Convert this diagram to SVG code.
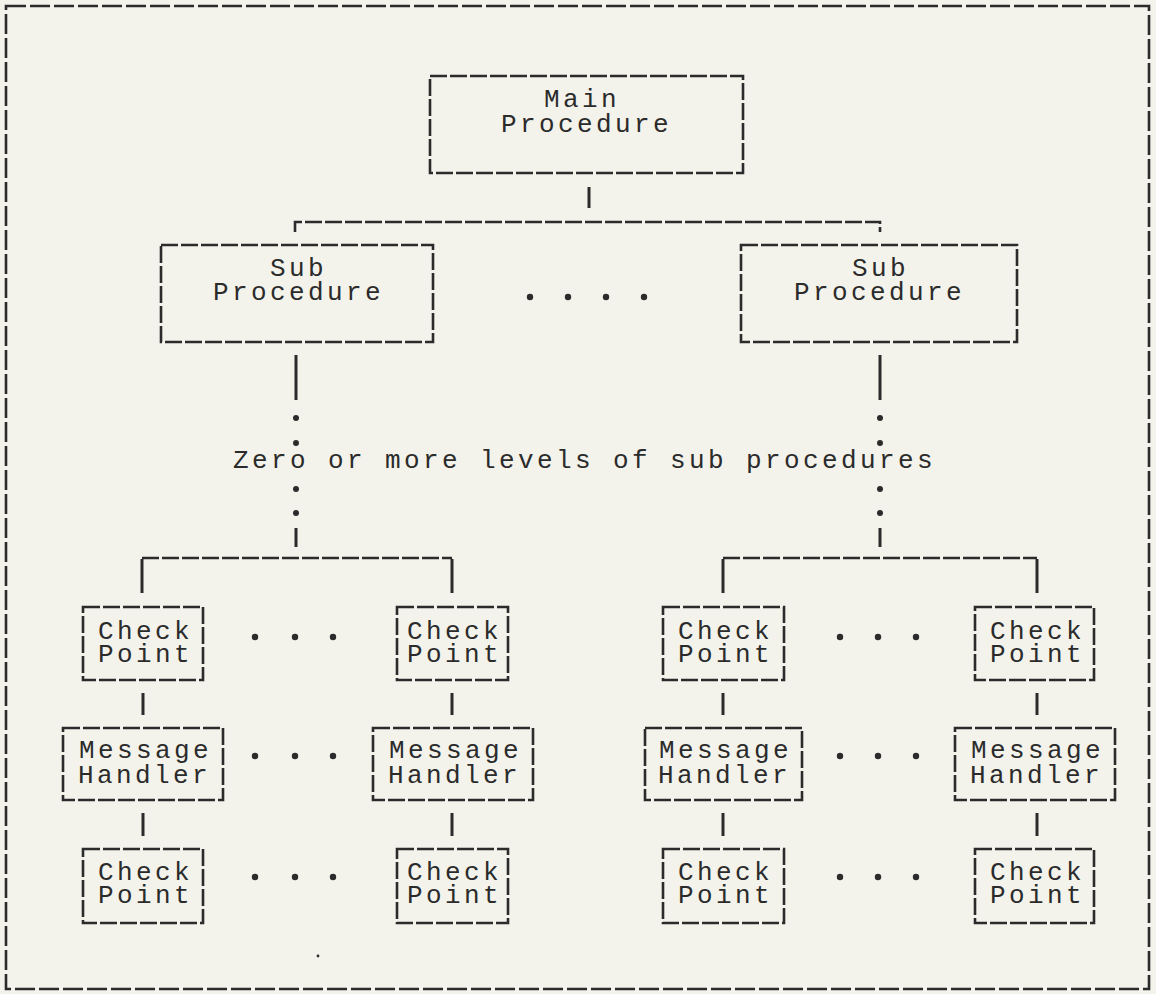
<svg xmlns="http://www.w3.org/2000/svg" width="1156" height="994" viewBox="0 0 1156 994">
  <style>
    .bg { fill: #f3f3ec; }
    .box { fill: none; stroke: #2b2b2b; stroke-width: 2.6; stroke-dasharray: 17 3; }
    .frame { fill: none; stroke: #2b2b2b; stroke-width: 2.6; stroke-dasharray: 20 4; }
    .dash { fill: none; stroke: #2b2b2b; stroke-width: 2.6; stroke-dasharray: 17 3; }
    .solid { fill: none; stroke: #2b2b2b; stroke-width: 3; }
    .dot { fill: #2b2b2b; }
    text { font-family: "Liberation Mono", "DejaVu Sans Mono", monospace; font-size: 26px; letter-spacing: 3.4px; fill: #2b2b2b; }
  </style>
  <rect class="bg" x="0" y="0" width="1156" height="994"/>
  <rect id="frame" class="frame" x="6" y="6" width="1143" height="983"/>

  <g id="connectors">
    <line class="solid" x1="589" y1="187" x2="589" y2="208"/>
    <path class="dash" d="M295,232 V222 H880 V232"/>
    <line class="solid" x1="296" y1="355" x2="296" y2="400"/>
    <line class="solid" x1="880" y1="355" x2="880" y2="400"/>
    <line class="solid" x1="296" y1="528" x2="296" y2="547"/>
    <line class="solid" x1="880" y1="528" x2="880" y2="547"/>
    <path class="dash" d="M142,558 H452"/>
    <path class="dash" d="M723,558 H1037"/>
    <line class="solid" x1="142" y1="559" x2="142" y2="593"/>
    <line class="solid" x1="452" y1="559" x2="452" y2="593"/>
    <line class="solid" x1="723" y1="559" x2="723" y2="593"/>
    <line class="solid" x1="1037" y1="559" x2="1037" y2="593"/>
    <line class="solid" x1="143" y1="693" x2="143" y2="715"/>
    <line class="solid" x1="452" y1="693" x2="452" y2="715"/>
    <line class="solid" x1="723" y1="693" x2="723" y2="715"/>
    <line class="solid" x1="1037" y1="693" x2="1037" y2="715"/>
    <line class="solid" x1="143" y1="813" x2="143" y2="836"/>
    <line class="solid" x1="452" y1="813" x2="452" y2="836"/>
    <line class="solid" x1="723" y1="813" x2="723" y2="836"/>
    <line class="solid" x1="1037" y1="813" x2="1037" y2="836"/>
  </g>

  <g id="ellipses">
    <circle class="dot" cx="530" cy="297" r="3.2"/>
    <circle class="dot" cx="568" cy="297" r="3.2"/>
    <circle class="dot" cx="606" cy="297" r="3.2"/>
    <circle class="dot" cx="644" cy="297" r="3.2"/>
    <circle class="dot" cx="296" cy="418" r="3"/>
    <circle class="dot" cx="296" cy="443" r="3"/>
    <circle class="dot" cx="296" cy="489" r="3"/>
    <circle class="dot" cx="296" cy="513" r="3"/>
    <circle class="dot" cx="880" cy="418" r="3"/>
    <circle class="dot" cx="880" cy="443" r="3"/>
    <circle class="dot" cx="880" cy="489" r="3"/>
    <circle class="dot" cx="880" cy="513" r="3"/>
    <circle class="dot" cx="255" cy="637" r="3.2"/>
    <circle class="dot" cx="295" cy="637" r="3.2"/>
    <circle class="dot" cx="333" cy="637" r="3.2"/>
    <circle class="dot" cx="255" cy="756" r="3.2"/>
    <circle class="dot" cx="295" cy="756" r="3.2"/>
    <circle class="dot" cx="333" cy="756" r="3.2"/>
    <circle class="dot" cx="255" cy="877" r="3.2"/>
    <circle class="dot" cx="295" cy="877" r="3.2"/>
    <circle class="dot" cx="333" cy="877" r="3.2"/>
    <circle class="dot" cx="840" cy="637" r="3.2"/>
    <circle class="dot" cx="878" cy="637" r="3.2"/>
    <circle class="dot" cx="916" cy="637" r="3.2"/>
    <circle class="dot" cx="840" cy="756" r="3.2"/>
    <circle class="dot" cx="878" cy="756" r="3.2"/>
    <circle class="dot" cx="916" cy="756" r="3.2"/>
    <circle class="dot" cx="840" cy="877" r="3.2"/>
    <circle class="dot" cx="878" cy="877" r="3.2"/>
    <circle class="dot" cx="916" cy="877" r="3.2"/>
    <circle class="dot" cx="318" cy="956" r="1.4"/>
  </g>

  <g id="main-procedure">
    <rect class="box" x="430" y="76" width="313" height="97"/>
    <text x="544" y="107">Main</text>
    <text x="501" y="132">Procedure</text>
  </g>

  <g id="sub-procedure-left">
    <rect class="box" x="161" y="245" width="272" height="97"/>
    <text x="270" y="276">Sub</text>
    <text x="213" y="300">Procedure</text>
  </g>

  <g id="sub-procedure-right">
    <rect class="box" x="741" y="245" width="276" height="97"/>
    <text x="852" y="276">Sub</text>
    <text x="794" y="300">Procedure</text>
  </g>

  <g id="levels-label">
    <text x="233" y="468">Zero or more levels of sub procedures</text>
  </g>

  <g id="checkpoint-1a">
    <rect class="box" x="83" y="607" width="120" height="73"/>
    <text x="98" y="639">Check</text>
    <text x="98" y="662">Point</text>
  </g>
  <g id="checkpoint-2a">
    <rect class="box" x="397" y="607" width="111" height="73"/>
    <text x="407" y="639">Check</text>
    <text x="407" y="662">Point</text>
  </g>
  <g id="checkpoint-3a">
    <rect class="box" x="663" y="607" width="121" height="73"/>
    <text x="678" y="639">Check</text>
    <text x="678" y="662">Point</text>
  </g>
  <g id="checkpoint-4a">
    <rect class="box" x="975" y="607" width="119" height="73"/>
    <text x="990" y="639">Check</text>
    <text x="990" y="662">Point</text>
  </g>

  <g id="handler-1">
    <rect class="box" x="63" y="728" width="160" height="72"/>
    <text x="79" y="758">Message</text>
    <text x="78" y="783">Handler</text>
  </g>
  <g id="handler-2">
    <rect class="box" x="373" y="728" width="160" height="72"/>
    <text x="389" y="758">Message</text>
    <text x="388" y="783">Handler</text>
  </g>
  <g id="handler-3">
    <rect class="box" x="645" y="728" width="157" height="72"/>
    <text x="659" y="758">Message</text>
    <text x="658" y="783">Handler</text>
  </g>
  <g id="handler-4">
    <rect class="box" x="955" y="728" width="160" height="72"/>
    <text x="971" y="758">Message</text>
    <text x="970" y="783">Handler</text>
  </g>

  <g id="checkpoint-1b">
    <rect class="box" x="83" y="849" width="120" height="74"/>
    <text x="98" y="880">Check</text>
    <text x="98" y="903">Point</text>
  </g>
  <g id="checkpoint-2b">
    <rect class="box" x="397" y="849" width="111" height="74"/>
    <text x="407" y="880">Check</text>
    <text x="407" y="903">Point</text>
  </g>
  <g id="checkpoint-3b">
    <rect class="box" x="663" y="849" width="121" height="74"/>
    <text x="678" y="880">Check</text>
    <text x="678" y="903">Point</text>
  </g>
  <g id="checkpoint-4b">
    <rect class="box" x="975" y="849" width="119" height="74"/>
    <text x="990" y="880">Check</text>
    <text x="990" y="903">Point</text>
  </g>
</svg>
